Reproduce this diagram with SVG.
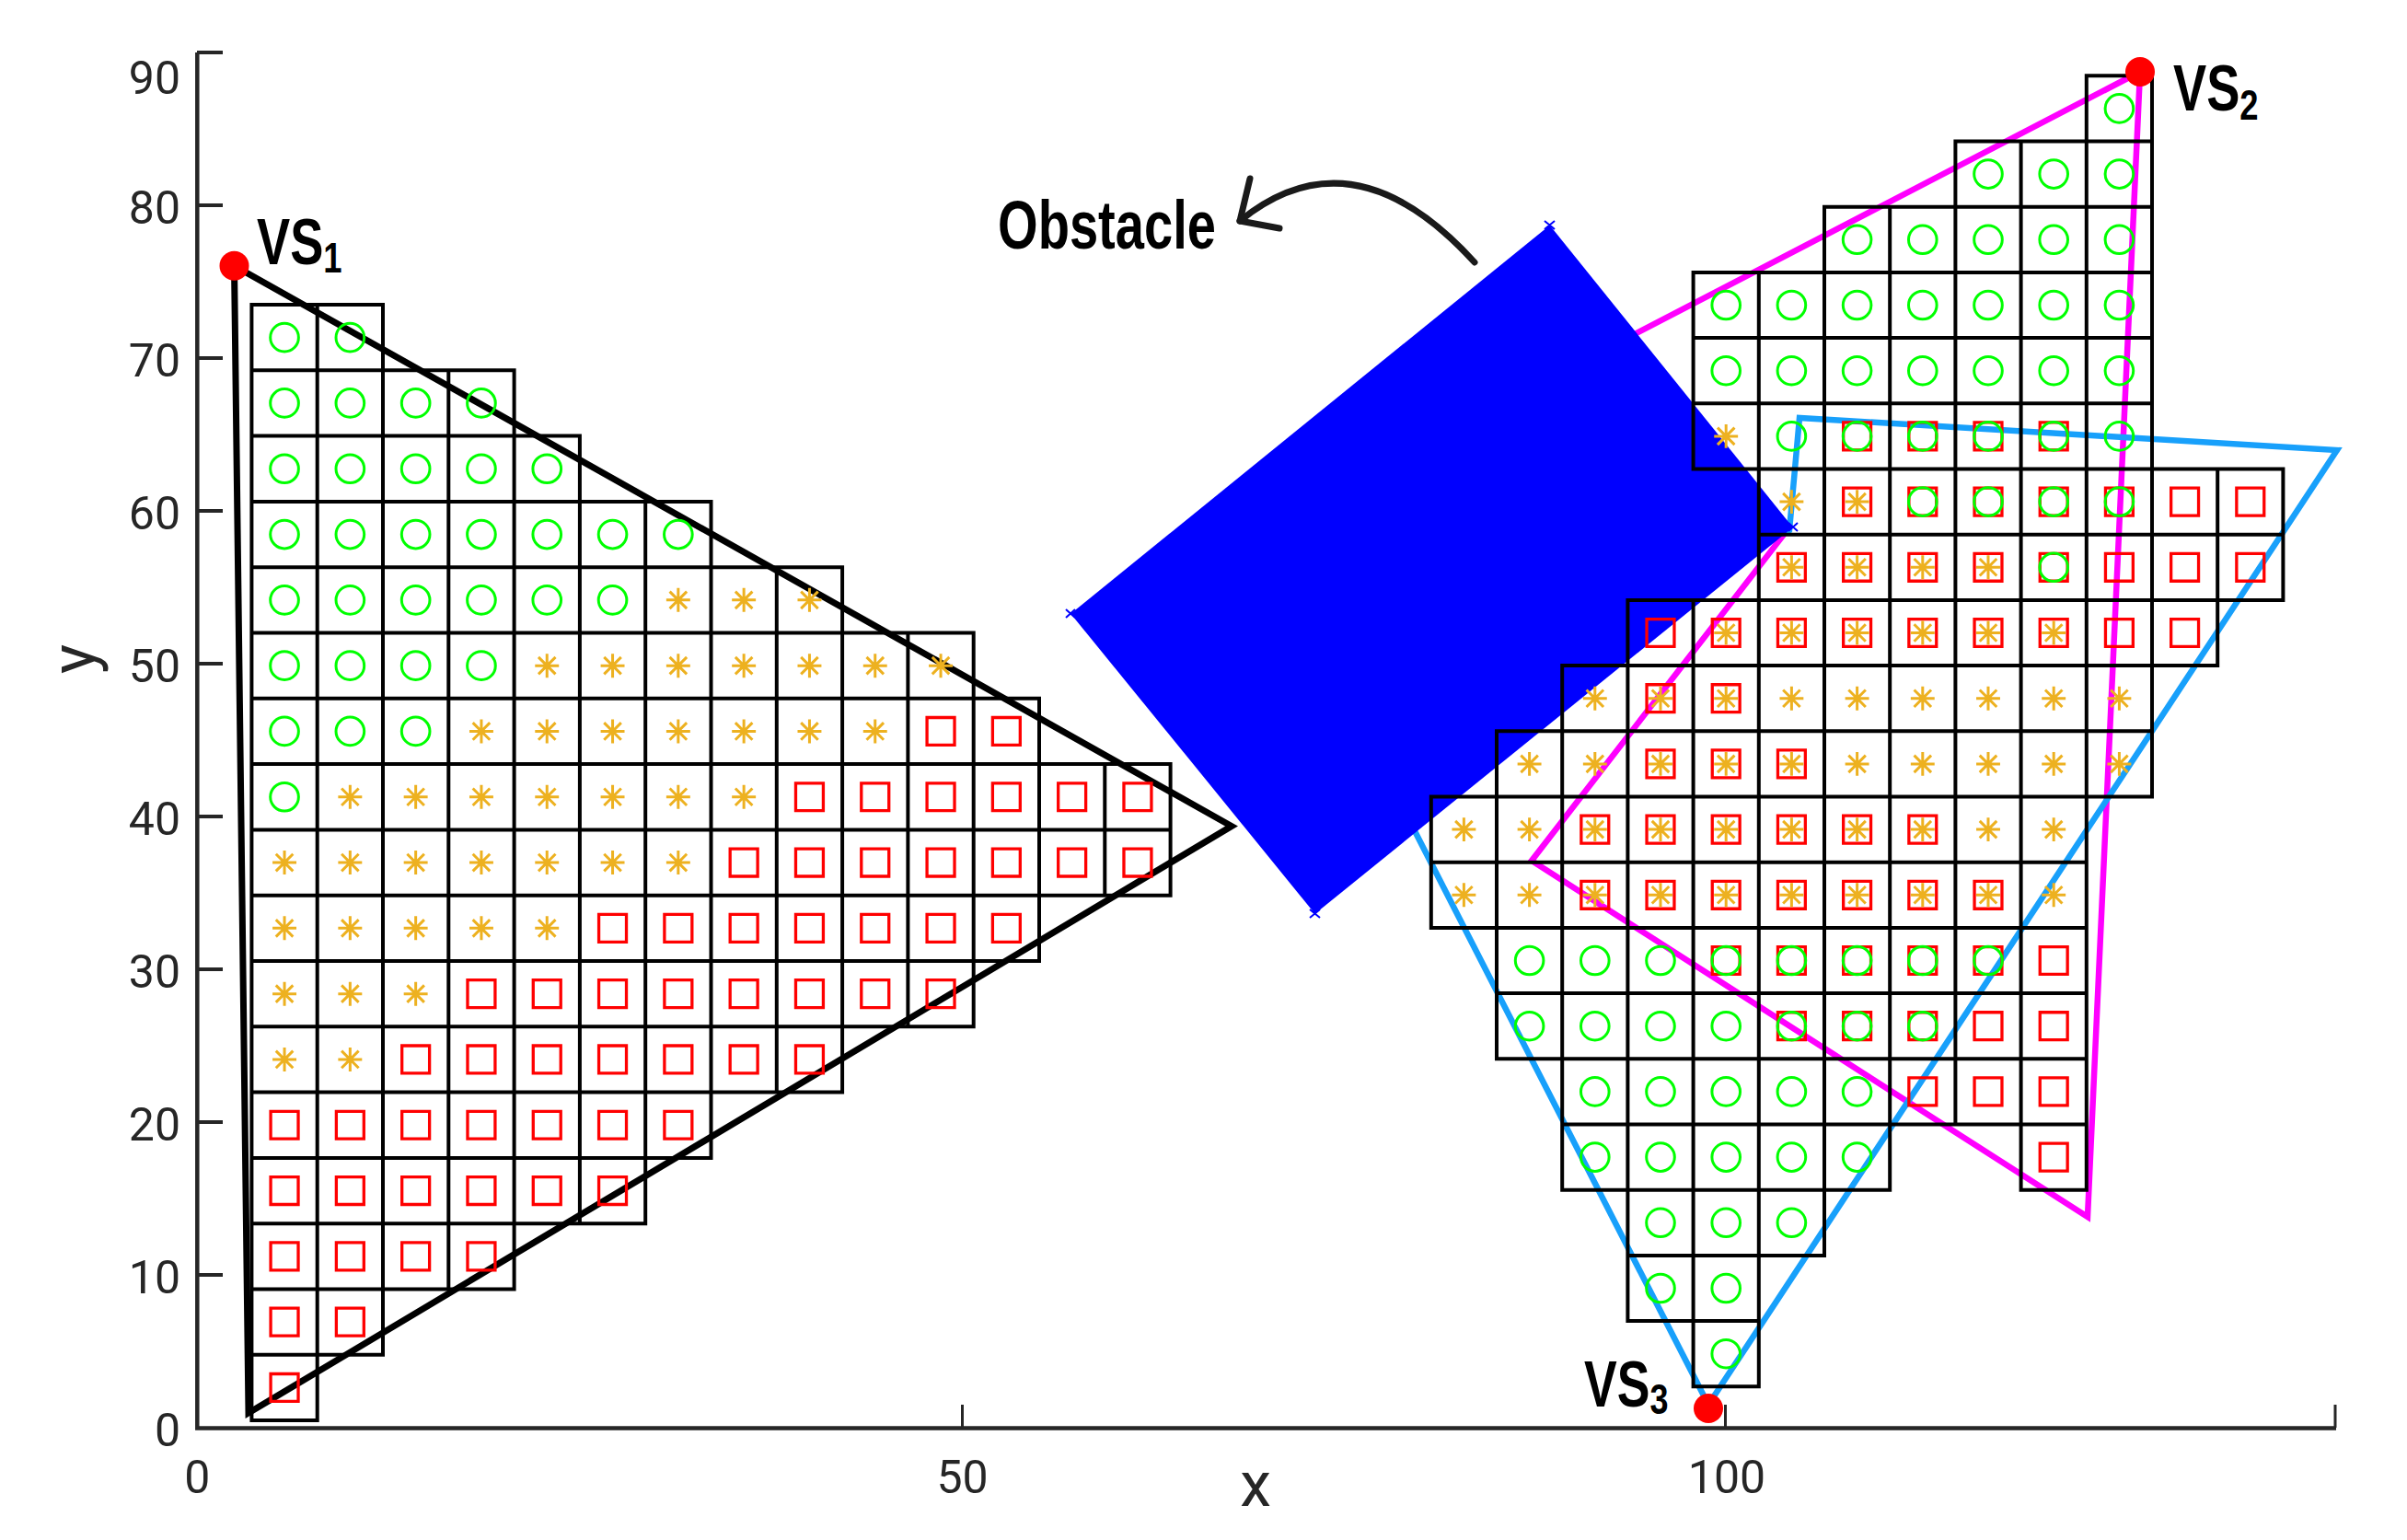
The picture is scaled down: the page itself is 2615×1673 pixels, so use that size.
<svg xmlns="http://www.w3.org/2000/svg" width="2615" height="1673" viewBox="0 0 2615 1673">
<style>
.ax{stroke:#262626;stroke-width:4.5;fill:none}
.tk{stroke:#262626;stroke-width:4;fill:none}
.tl{font-family:Roboto,"Liberation Sans",sans-serif;font-size:50px;fill:#262626}
.lab{font-family:Roboto,"Liberation Sans",sans-serif;font-size:68px;fill:#262626}
.bd{font-family:"Liberation Sans",Arial,sans-serif;font-weight:bold;fill:#000}
.vs{font-family:"Liberation Sans",Arial,sans-serif;font-weight:bold;fill:#000;font-size:70px}
.sub{font-size:47px}
.grid{fill:none;stroke:#000;stroke-width:4;vector-effect:non-scaling-stroke}
.dot{fill:#FF0000}
</style>
<defs>
<circle id="O" cx=".5" cy=".5" r=".215" fill="none" stroke="#00FF00" stroke-width="3" vector-effect="non-scaling-stroke"/>
<rect id="Q" x=".29" y=".29" width=".42" height=".42" fill="none" stroke="#FF0000" stroke-width="3.3" vector-effect="non-scaling-stroke"/>
<path id="S" d="M.5 .318V.682M.318 .5H.682M.37 .37L.63 .63M.37 .63L.63 .37" fill="none" stroke="#EDB120" stroke-width="3" vector-effect="non-scaling-stroke"/>
</defs>

<g id="axes">
<path class="ax" d="M214.3 57V1551.5H2538"/>
<path class="tk" d="M214 57H242M214 223H242M214 389H242M214 555H242M214 721H242M214 887H242M214 1053H242M214 1219H242M214 1385H242"/>
<path class="tk" style="stroke-width:3" d="M1045.5 1551V1526M1874.5 1551V1526M2537 1551V1526"/>
<g class="tl" text-anchor="end">
<text x="196" y="1571">0</text>
<text x="196" y="1405">10</text>
<text x="196" y="1239">20</text>
<text x="196" y="1073">30</text>
<text x="196" y="907">40</text>
<text x="196" y="741">50</text>
<text x="196" y="575">60</text>
<text x="196" y="409">70</text>
<text x="196" y="243">80</text>
<text x="196" y="102">90</text>
</g>
<g class="tl" text-anchor="middle">
<text x="214.3" y="1622">0</text>
<text x="1045.5" y="1622">50</text>
<text x="1876" y="1622">100</text>
</g>
<text class="lab" x="1364" y="1636" text-anchor="middle">x</text>
<text class="lab" transform="translate(103,716) rotate(-90)" text-anchor="middle">y</text>
</g>

<g id="connectors">
<polygon id="vs2-region" points="2325,78 1720,392 1940,578 1664,935 2268,1322" fill="none" stroke="#FF00FF" stroke-width="6.5" stroke-linejoin="miter"/>
<polygon id="vs3-region" points="1856,1526 1469,770 1944,576 1955,454 2539,489" fill="none" stroke="#18A0FB" stroke-width="6.5" stroke-linejoin="miter"/>
<polygon id="vs1-region" points="254.5,288.7 1338,897.5 270,1535" fill="none" stroke="#000" stroke-width="7" stroke-linejoin="miter"/>
</g>

<g id="obstacle">
<polygon points="1163.3,666.7 1683.7,244.7 1947.8,572.9 1428.6,992.7" fill="#0000FF"/>
<path d="M1158 662l10 9M1158 671l10-9M1678 240l11 9M1678 249l11-9M1943 568l10 9M1943 577l10-9M1423 988l11 9M1423 997l11-9" stroke="#0000FF" stroke-width="2"/>
</g>

<g id="left-grid" transform="translate(273.4 331) scale(71.3)">
<path class="grid" d="M0 0h2v1h-2zm1 0v1
M0 1h4v1h-4zm1 0v1m1-1v1m1-1v1
M0 2h5v1h-5zm1 0v1m1-1v1m1-1v1m1-1v1
M0 3h7v1h-7zm1 0v1m1-1v1m1-1v1m1-1v1m1-1v1m1-1v1
M0 4h9v1h-9zm1 0v1m1-1v1m1-1v1m1-1v1m1-1v1m1-1v1m1-1v1m1-1v1
M0 5h11v1h-11zm1 0v1m1-1v1m1-1v1m1-1v1m1-1v1m1-1v1m1-1v1m1-1v1m1-1v1m1-1v1
M0 6h12v1h-12zm1 0v1m1-1v1m1-1v1m1-1v1m1-1v1m1-1v1m1-1v1m1-1v1m1-1v1m1-1v1m1-1v1
M0 7h14v1h-14zm1 0v1m1-1v1m1-1v1m1-1v1m1-1v1m1-1v1m1-1v1m1-1v1m1-1v1m1-1v1m1-1v1m1-1v1m1-1v1
M0 8h14v1h-14zm1 0v1m1-1v1m1-1v1m1-1v1m1-1v1m1-1v1m1-1v1m1-1v1m1-1v1m1-1v1m1-1v1m1-1v1m1-1v1
M0 9h12v1h-12zm1 0v1m1-1v1m1-1v1m1-1v1m1-1v1m1-1v1m1-1v1m1-1v1m1-1v1m1-1v1m1-1v1
M0 10h11v1h-11zm1 0v1m1-1v1m1-1v1m1-1v1m1-1v1m1-1v1m1-1v1m1-1v1m1-1v1m1-1v1
M0 11h9v1h-9zm1 0v1m1-1v1m1-1v1m1-1v1m1-1v1m1-1v1m1-1v1m1-1v1
M0 12h7v1h-7zm1 0v1m1-1v1m1-1v1m1-1v1m1-1v1m1-1v1
M0 13h6v1h-6zm1 0v1m1-1v1m1-1v1m1-1v1m1-1v1
M0 14h4v1h-4zm1 0v1m1-1v1m1-1v1
M0 15h2v1h-2zm1 0v1
M0 16h1v1h-1z"/>
</g>

<g id="right-grid" transform="translate(1554.8 82.3) scale(71.2)">
<path class="grid" d="M10 0h1v1h-1z
M8 1h3v1h-3zm1 0v1m1-1v1
M6 2h5v1h-5zm1 0v1m1-1v1m1-1v1m1-1v1
M4 3h7v1h-7zm1 0v1m1-1v1m1-1v1m1-1v1m1-1v1m1-1v1
M4 4h7v1h-7zm1 0v1m1-1v1m1-1v1m1-1v1m1-1v1m1-1v1
M4 5h7v1h-7zm1 0v1m1-1v1m1-1v1m1-1v1m1-1v1m1-1v1
M5 6h8v1h-8zm1 0v1m1-1v1m1-1v1m1-1v1m1-1v1m1-1v1m1-1v1
M5 7h8v1h-8zm1 0v1m1-1v1m1-1v1m1-1v1m1-1v1m1-1v1m1-1v1
M3 8h9v1h-9zm1 0v1m1-1v1m1-1v1m1-1v1m1-1v1m1-1v1m1-1v1m1-1v1
M2 9h9v1h-9zm1 0v1m1-1v1m1-1v1m1-1v1m1-1v1m1-1v1m1-1v1m1-1v1
M1 10h10v1h-10zm1 0v1m1-1v1m1-1v1m1-1v1m1-1v1m1-1v1m1-1v1m1-1v1m1-1v1
M0 11h10v1h-10zm1 0v1m1-1v1m1-1v1m1-1v1m1-1v1m1-1v1m1-1v1m1-1v1m1-1v1
M0 12h10v1h-10zm1 0v1m1-1v1m1-1v1m1-1v1m1-1v1m1-1v1m1-1v1m1-1v1m1-1v1
M1 13h9v1h-9zm1 0v1m1-1v1m1-1v1m1-1v1m1-1v1m1-1v1m1-1v1m1-1v1
M1 14h9v1h-9zm1 0v1m1-1v1m1-1v1m1-1v1m1-1v1m1-1v1m1-1v1m1-1v1
M2 15h8v1h-8zm1 0v1m1-1v1m1-1v1m1-1v1m1-1v1m1-1v1m1-1v1
M2 16h5v1h-5zm1 0v1m1-1v1m1-1v1m1-1v1
M9 16h1v1h-1z
M3 17h3v1h-3zm1 0v1m1-1v1
M3 18h2v1h-2zm1 0v1
M4 19h1v1h-1z"/>
</g>

<g id="left-markers" transform="translate(273.4 331) scale(71.3)">
<use href="#Q" x="10" y="6"/><use href="#Q" x="11" y="6"/>
<use href="#Q" x="8" y="7"/><use href="#Q" x="9" y="7"/><use href="#Q" x="10" y="7"/><use href="#Q" x="11" y="7"/><use href="#Q" x="12" y="7"/><use href="#Q" x="13" y="7"/>
<use href="#Q" x="7" y="8"/><use href="#Q" x="8" y="8"/><use href="#Q" x="9" y="8"/><use href="#Q" x="10" y="8"/><use href="#Q" x="11" y="8"/><use href="#Q" x="12" y="8"/><use href="#Q" x="13" y="8"/>
<use href="#Q" x="5" y="9"/><use href="#Q" x="6" y="9"/><use href="#Q" x="7" y="9"/><use href="#Q" x="8" y="9"/><use href="#Q" x="9" y="9"/><use href="#Q" x="10" y="9"/><use href="#Q" x="11" y="9"/>
<use href="#Q" x="3" y="10"/><use href="#Q" x="4" y="10"/><use href="#Q" x="5" y="10"/><use href="#Q" x="6" y="10"/><use href="#Q" x="7" y="10"/><use href="#Q" x="8" y="10"/><use href="#Q" x="9" y="10"/><use href="#Q" x="10" y="10"/>
<use href="#Q" x="2" y="11"/><use href="#Q" x="3" y="11"/><use href="#Q" x="4" y="11"/><use href="#Q" x="5" y="11"/><use href="#Q" x="6" y="11"/><use href="#Q" x="7" y="11"/><use href="#Q" x="8" y="11"/>
<use href="#Q" x="0" y="12"/><use href="#Q" x="1" y="12"/><use href="#Q" x="2" y="12"/><use href="#Q" x="3" y="12"/><use href="#Q" x="4" y="12"/><use href="#Q" x="5" y="12"/><use href="#Q" x="6" y="12"/>
<use href="#Q" x="0" y="13"/><use href="#Q" x="1" y="13"/><use href="#Q" x="2" y="13"/><use href="#Q" x="3" y="13"/><use href="#Q" x="4" y="13"/><use href="#Q" x="5" y="13"/>
<use href="#Q" x="0" y="14"/><use href="#Q" x="1" y="14"/><use href="#Q" x="2" y="14"/><use href="#Q" x="3" y="14"/>
<use href="#Q" x="0" y="15"/><use href="#Q" x="1" y="15"/>
<use href="#Q" x="0" y="16"/>
<use href="#S" x="6" y="4"/><use href="#S" x="7" y="4"/><use href="#S" x="8" y="4"/>
<use href="#S" x="4" y="5"/><use href="#S" x="5" y="5"/><use href="#S" x="6" y="5"/><use href="#S" x="7" y="5"/><use href="#S" x="8" y="5"/><use href="#S" x="9" y="5"/><use href="#S" x="10" y="5"/>
<use href="#S" x="3" y="6"/><use href="#S" x="4" y="6"/><use href="#S" x="5" y="6"/><use href="#S" x="6" y="6"/><use href="#S" x="7" y="6"/><use href="#S" x="8" y="6"/><use href="#S" x="9" y="6"/>
<use href="#S" x="1" y="7"/><use href="#S" x="2" y="7"/><use href="#S" x="3" y="7"/><use href="#S" x="4" y="7"/><use href="#S" x="5" y="7"/><use href="#S" x="6" y="7"/><use href="#S" x="7" y="7"/>
<use href="#S" x="0" y="8"/><use href="#S" x="1" y="8"/><use href="#S" x="2" y="8"/><use href="#S" x="3" y="8"/><use href="#S" x="4" y="8"/><use href="#S" x="5" y="8"/><use href="#S" x="6" y="8"/>
<use href="#S" x="0" y="9"/><use href="#S" x="1" y="9"/><use href="#S" x="2" y="9"/><use href="#S" x="3" y="9"/><use href="#S" x="4" y="9"/>
<use href="#S" x="0" y="10"/><use href="#S" x="1" y="10"/><use href="#S" x="2" y="10"/>
<use href="#S" x="0" y="11"/><use href="#S" x="1" y="11"/>
<use href="#O" x="0" y="0"/><use href="#O" x="1" y="0"/>
<use href="#O" x="0" y="1"/><use href="#O" x="1" y="1"/><use href="#O" x="2" y="1"/><use href="#O" x="3" y="1"/>
<use href="#O" x="0" y="2"/><use href="#O" x="1" y="2"/><use href="#O" x="2" y="2"/><use href="#O" x="3" y="2"/><use href="#O" x="4" y="2"/>
<use href="#O" x="0" y="3"/><use href="#O" x="1" y="3"/><use href="#O" x="2" y="3"/><use href="#O" x="3" y="3"/><use href="#O" x="4" y="3"/><use href="#O" x="5" y="3"/><use href="#O" x="6" y="3"/>
<use href="#O" x="0" y="4"/><use href="#O" x="1" y="4"/><use href="#O" x="2" y="4"/><use href="#O" x="3" y="4"/><use href="#O" x="4" y="4"/><use href="#O" x="5" y="4"/>
<use href="#O" x="0" y="5"/><use href="#O" x="1" y="5"/><use href="#O" x="2" y="5"/><use href="#O" x="3" y="5"/>
<use href="#O" x="0" y="6"/><use href="#O" x="1" y="6"/><use href="#O" x="2" y="6"/>
<use href="#O" x="0" y="7"/>
</g>

<g id="right-markers" transform="translate(1554.8 82.3) scale(71.2)">
<use href="#Q" x="6" y="5"/><use href="#Q" x="7" y="5"/><use href="#Q" x="8" y="5"/><use href="#Q" x="9" y="5"/>
<use href="#Q" x="6" y="6"/><use href="#Q" x="7" y="6"/><use href="#Q" x="8" y="6"/><use href="#Q" x="9" y="6"/><use href="#Q" x="10" y="6"/><use href="#Q" x="11" y="6"/><use href="#Q" x="12" y="6"/>
<use href="#Q" x="5" y="7"/><use href="#Q" x="6" y="7"/><use href="#Q" x="7" y="7"/><use href="#Q" x="8" y="7"/><use href="#Q" x="9" y="7"/><use href="#Q" x="10" y="7"/><use href="#Q" x="11" y="7"/><use href="#Q" x="12" y="7"/>
<use href="#Q" x="3" y="8"/><use href="#Q" x="4" y="8"/><use href="#Q" x="5" y="8"/><use href="#Q" x="6" y="8"/><use href="#Q" x="7" y="8"/><use href="#Q" x="8" y="8"/><use href="#Q" x="9" y="8"/><use href="#Q" x="10" y="8"/><use href="#Q" x="11" y="8"/>
<use href="#Q" x="3" y="9"/><use href="#Q" x="4" y="9"/>
<use href="#Q" x="3" y="10"/><use href="#Q" x="4" y="10"/><use href="#Q" x="5" y="10"/>
<use href="#Q" x="2" y="11"/><use href="#Q" x="3" y="11"/><use href="#Q" x="4" y="11"/><use href="#Q" x="5" y="11"/><use href="#Q" x="6" y="11"/><use href="#Q" x="7" y="11"/>
<use href="#Q" x="2" y="12"/><use href="#Q" x="3" y="12"/><use href="#Q" x="4" y="12"/><use href="#Q" x="5" y="12"/><use href="#Q" x="6" y="12"/><use href="#Q" x="7" y="12"/><use href="#Q" x="8" y="12"/>
<use href="#Q" x="4" y="13"/><use href="#Q" x="5" y="13"/><use href="#Q" x="6" y="13"/><use href="#Q" x="7" y="13"/><use href="#Q" x="8" y="13"/><use href="#Q" x="9" y="13"/>
<use href="#Q" x="5" y="14"/><use href="#Q" x="6" y="14"/><use href="#Q" x="7" y="14"/><use href="#Q" x="8" y="14"/><use href="#Q" x="9" y="14"/>
<use href="#Q" x="7" y="15"/><use href="#Q" x="8" y="15"/><use href="#Q" x="9" y="15"/>
<use href="#Q" x="9" y="16"/>
<use href="#S" x="4" y="5"/>
<use href="#S" x="5" y="6"/><use href="#S" x="6" y="6"/>
<use href="#S" x="5" y="7"/><use href="#S" x="6" y="7"/><use href="#S" x="7" y="7"/><use href="#S" x="8" y="7"/>
<use href="#S" x="4" y="8"/><use href="#S" x="5" y="8"/><use href="#S" x="6" y="8"/><use href="#S" x="7" y="8"/><use href="#S" x="8" y="8"/><use href="#S" x="9" y="8"/>
<use href="#S" x="2" y="9"/><use href="#S" x="3" y="9"/><use href="#S" x="4" y="9"/><use href="#S" x="5" y="9"/><use href="#S" x="6" y="9"/><use href="#S" x="7" y="9"/><use href="#S" x="8" y="9"/><use href="#S" x="9" y="9"/><use href="#S" x="10" y="9"/>
<use href="#S" x="1" y="10"/><use href="#S" x="2" y="10"/><use href="#S" x="3" y="10"/><use href="#S" x="4" y="10"/><use href="#S" x="5" y="10"/><use href="#S" x="6" y="10"/><use href="#S" x="7" y="10"/><use href="#S" x="8" y="10"/><use href="#S" x="9" y="10"/><use href="#S" x="10" y="10"/>
<use href="#S" x="0" y="11"/><use href="#S" x="1" y="11"/><use href="#S" x="2" y="11"/><use href="#S" x="3" y="11"/><use href="#S" x="4" y="11"/><use href="#S" x="5" y="11"/><use href="#S" x="6" y="11"/><use href="#S" x="7" y="11"/><use href="#S" x="8" y="11"/><use href="#S" x="9" y="11"/>
<use href="#S" x="0" y="12"/><use href="#S" x="1" y="12"/><use href="#S" x="2" y="12"/><use href="#S" x="3" y="12"/><use href="#S" x="4" y="12"/><use href="#S" x="5" y="12"/><use href="#S" x="6" y="12"/><use href="#S" x="7" y="12"/><use href="#S" x="8" y="12"/><use href="#S" x="9" y="12"/>
<use href="#O" x="10" y="0"/>
<use href="#O" x="8" y="1"/><use href="#O" x="9" y="1"/><use href="#O" x="10" y="1"/>
<use href="#O" x="6" y="2"/><use href="#O" x="7" y="2"/><use href="#O" x="8" y="2"/><use href="#O" x="9" y="2"/><use href="#O" x="10" y="2"/>
<use href="#O" x="4" y="3"/><use href="#O" x="5" y="3"/><use href="#O" x="6" y="3"/><use href="#O" x="7" y="3"/><use href="#O" x="8" y="3"/><use href="#O" x="9" y="3"/><use href="#O" x="10" y="3"/>
<use href="#O" x="4" y="4"/><use href="#O" x="5" y="4"/><use href="#O" x="6" y="4"/><use href="#O" x="7" y="4"/><use href="#O" x="8" y="4"/><use href="#O" x="9" y="4"/><use href="#O" x="10" y="4"/>
<use href="#O" x="5" y="5"/><use href="#O" x="6" y="5"/><use href="#O" x="7" y="5"/><use href="#O" x="8" y="5"/><use href="#O" x="9" y="5"/><use href="#O" x="10" y="5"/>
<use href="#O" x="7" y="6"/><use href="#O" x="8" y="6"/><use href="#O" x="9" y="6"/><use href="#O" x="10" y="6"/>
<use href="#O" x="9" y="7"/>
<use href="#O" x="1" y="13"/><use href="#O" x="2" y="13"/><use href="#O" x="3" y="13"/><use href="#O" x="4" y="13"/><use href="#O" x="5" y="13"/><use href="#O" x="6" y="13"/><use href="#O" x="7" y="13"/><use href="#O" x="8" y="13"/>
<use href="#O" x="1" y="14"/><use href="#O" x="2" y="14"/><use href="#O" x="3" y="14"/><use href="#O" x="4" y="14"/><use href="#O" x="5" y="14"/><use href="#O" x="6" y="14"/><use href="#O" x="7" y="14"/>
<use href="#O" x="2" y="15"/><use href="#O" x="3" y="15"/><use href="#O" x="4" y="15"/><use href="#O" x="5" y="15"/><use href="#O" x="6" y="15"/>
<use href="#O" x="2" y="16"/><use href="#O" x="3" y="16"/><use href="#O" x="4" y="16"/><use href="#O" x="5" y="16"/><use href="#O" x="6" y="16"/>
<use href="#O" x="3" y="17"/><use href="#O" x="4" y="17"/><use href="#O" x="5" y="17"/>
<use href="#O" x="3" y="18"/><use href="#O" x="4" y="18"/>
<use href="#O" x="4" y="19"/>
</g>

<g id="vs1">
<circle class="dot" cx="254.5" cy="288.7" r="16"/>
<text class="vs" transform="translate(279,287) scale(0.775,1)">VS<tspan class="sub" dy="9">1</tspan></text>
</g>
<g id="vs2">
<circle class="dot" cx="2325" cy="78" r="16"/>
<text class="vs" transform="translate(2361,120) scale(0.775,1)">VS<tspan class="sub" dy="10">2</tspan></text>
</g>
<g id="vs3">
<circle class="dot" cx="1856" cy="1530" r="16"/>
<text class="vs" transform="translate(1721,1528) scale(0.765,1)">VS<tspan class="sub" dy="8">3</tspan></text>
</g>
<g id="obstacle-label">
<text class="bd" x="1084" y="270" font-size="74" textLength="237" lengthAdjust="spacingAndGlyphs">Obstacle</text>
<path d="M1602,285 Q1470,140 1347,240" fill="none" stroke="#1a1a1a" stroke-width="7" stroke-linecap="round"/>
<path d="M1358,194 L1347,240 L1390,248" fill="none" stroke="#1a1a1a" stroke-width="7" stroke-linecap="round" stroke-linejoin="round"/>
</g>
</svg>
